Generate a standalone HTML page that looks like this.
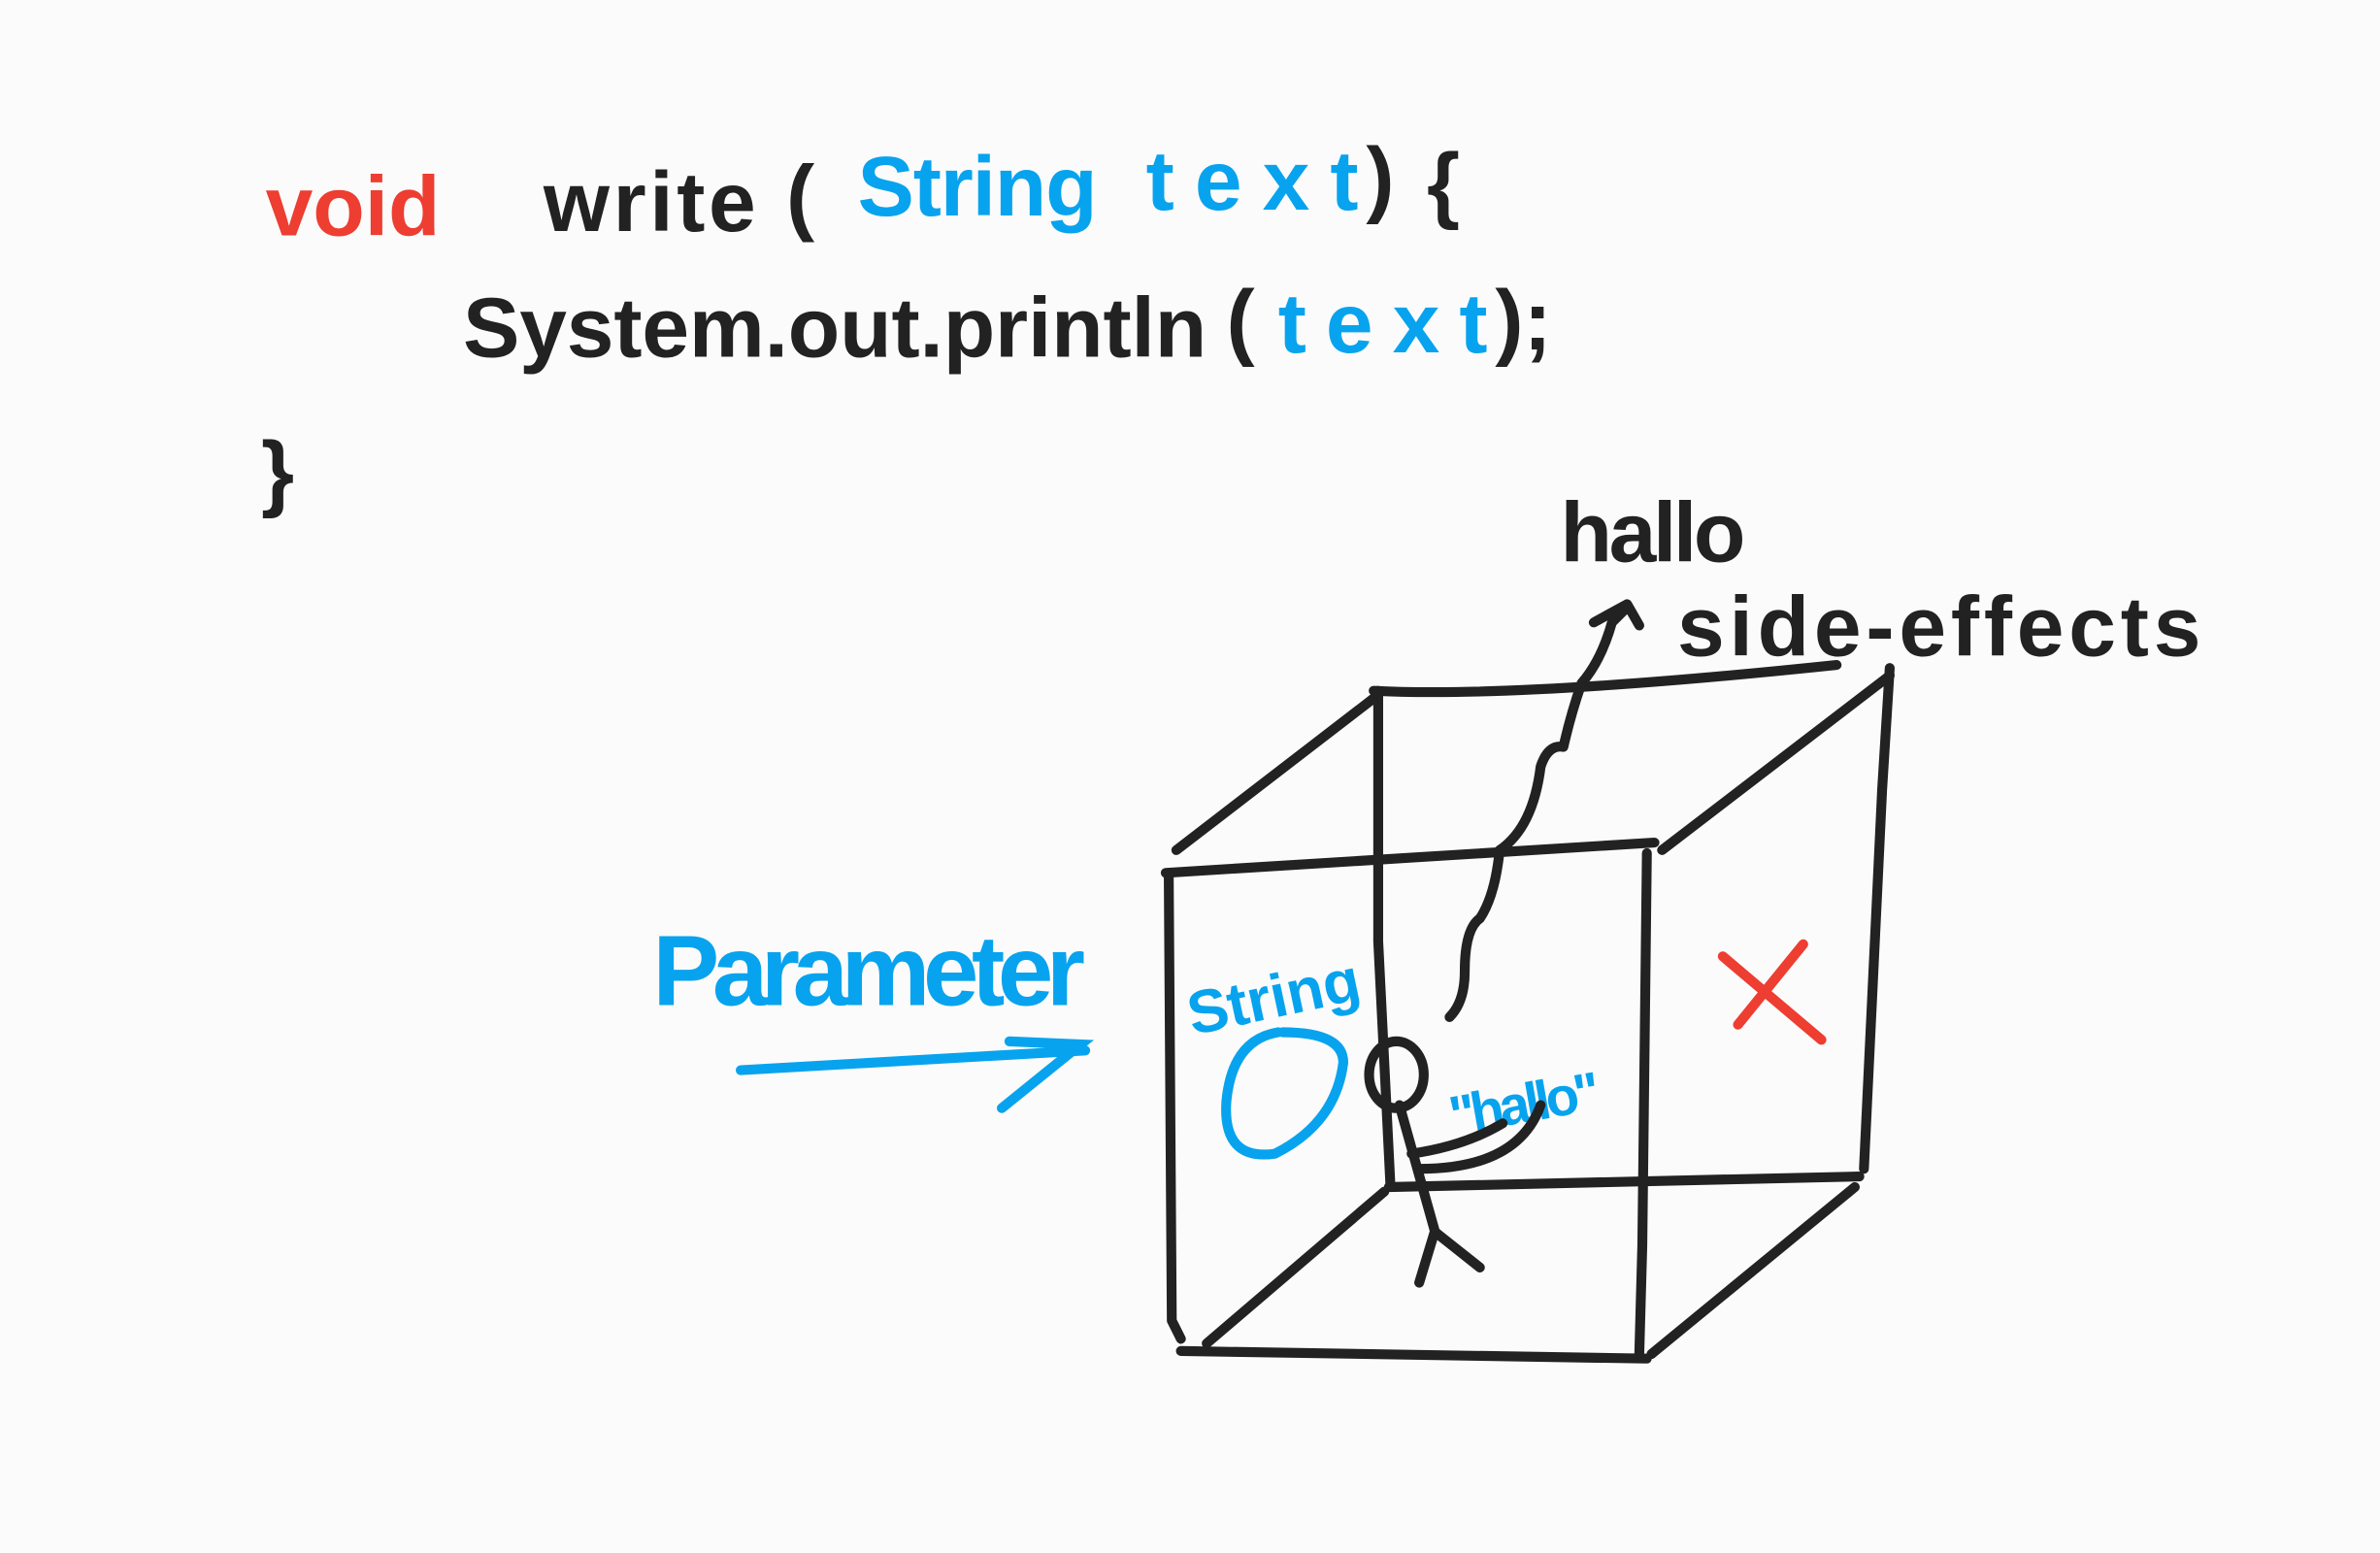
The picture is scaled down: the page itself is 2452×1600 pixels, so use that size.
<!DOCTYPE html>
<html><head><meta charset="utf-8"><style>
html,body{margin:0;padding:0;background:#fbfbfb;}
svg{display:block;}
text{font-family:"Liberation Sans",sans-serif;font-weight:bold;}
</style></head><body>
<svg width="2452" height="1600" viewBox="0 0 1568 1023" xmlns="http://www.w3.org/2000/svg">
<rect width="1568" height="1023" fill="#fbfbfb"/>
<g font-size="56">
<text x="175" y="155" fill="#ee3d31" textLength="115">void</text>
<text x="358" y="152" fill="#222" textLength="140">write</text>
<text x="518" y="148" fill="#222">(</text>
<text x="565" y="142" fill="#08a3ee" textLength="158">String</text>
<text x="755" y="138" fill="#08a3ee" textLength="140">text</text>
<text x="900" y="136" fill="#222">)</text>
<text x="940" y="140" fill="#222">{</text>
<text x="305" y="235" fill="#222" textLength="490">System.out.println</text>
<text x="808" y="230" fill="#222">(</text>
<text x="842" y="232" fill="#08a3ee" textLength="138">text</text>
<text x="985" y="230" fill="#222">);</text>
<text x="172" y="330" fill="#222">}</text>
<text x="1028" y="370" fill="#222" textLength="122">hallo</text>
<text x="1105" y="432" fill="#222" textLength="345">side-effects</text>
<text x="430" y="662" fill="#08a3ee" font-size="66" textLength="285" font-weight="normal">Parameter</text>
<text x="780" y="672" fill="#08a3ee" font-size="40" textLength="115" transform="rotate(-12 830 650)">String</text>
<text x="955" y="740" fill="#08a3ee" font-size="36" textLength="100" transform="rotate(-10 1000 730)">"hallo"</text>
</g>
<g fill="none" stroke="#222" stroke-width="6.5" stroke-linecap="round" stroke-linejoin="round">
<path d="M768 575 L1090 555"/>
<path d="M770 578 L772 870 L778 882"/>
<path d="M778 890 L1085 895"/>
<path d="M1085 562 L1082 820 L1080 892"/>
<path d="M905 455 Q1000 460 1210 438"/>
<path d="M908 455 L908 620 L916 780"/>
<path d="M915 782 L1225 775"/>
<path d="M1245 440 L1240 520 L1228 770"/>
<path d="M775 560 L905 460"/>
<path d="M1095 560 L1245 445"/>
<path d="M795 885 L912 785"/>
<path d="M1088 892 L1222 782"/>
<ellipse cx="920" cy="708" rx="18" ry="22"/>
<path d="M922 728 L945 810"/>
<path d="M945 812 L935 845 M946 812 L975 835"/>
<path d="M930 760 Q965 755 990 740 M935 770 Q1000 770 1015 728"/>
<path d="M955 670 Q965 660 965 640 Q965 612 975 605 Q985 590 988 560 Q1010 545 1015 505 Q1020 490 1030 492 Q1035 470 1042 450 Q1055 435 1062 410 L1072 400"/>
<path d="M1050 410 L1072 398 L1080 412"/>
</g>
<g fill="none" stroke="#08a3ee" stroke-width="6.5" stroke-linecap="round">
<path d="M845 680 Q885 680 885 700 Q880 740 840 760 Q805 765 808 725 Q812 685 842 680"/>
<path d="M488 705 L715 692"/>
<path d="M665 686 L712 688 L660 730"/>
</g>
<g stroke="#ee3d31" stroke-width="6.5" stroke-linecap="round" fill="none">
<path d="M1135 630 L1200 685"/>
<path d="M1188 622 L1145 675"/>
</g>
</svg>
</body></html>
